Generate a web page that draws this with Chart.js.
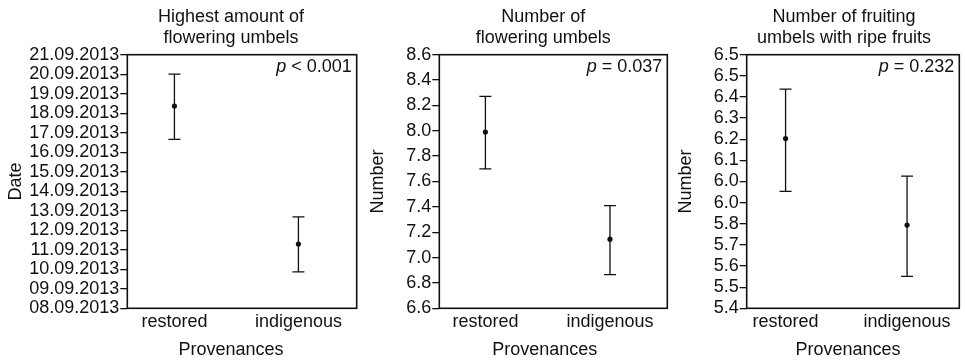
<!DOCTYPE html>
<html><head><meta charset="utf-8">
<script src="https://cdn.jsdelivr.net/npm/chart.js@4.4.1/dist/chart.umd.min.js"></script>
<style>
html,body{margin:0;padding:0;background:#fff;width:965px;height:361px;overflow:hidden}
.p{position:absolute;top:0;height:361px}
</style></head><body>
<div class="p" style="left:0;width:362px"><canvas id="c1"></canvas></div>
<div class="p" style="left:362px;width:308px"><canvas id="c2"></canvas></div>
<div class="p" style="left:670px;width:295px"><canvas id="c3"></canvas></div>
<script>
// ---- data ----
const categories = ['restored', 'indigenous'];

// Panel 1: highest amount of flowering umbels (day of September 2013)
const dateTickValues = [8, 9, 10, 11, 12, 13, 14, 15, 16, 17, 18, 19, 20, 21];
const dateTickLabels = ['08.09.2013','09.09.2013','10.09.2013','11.09.2013','12.09.2013','13.09.2013','14.09.2013',
  '15.09.2013','16.09.2013','17.09.2013','18.09.2013','19.09.2013','20.09.2013','21.09.2013'];
const dateMean  = [18.37, 11.29];
const dateLower = [16.66, 9.87];
const dateUpper = [20.00, 12.69];

// Panel 2: number of flowering umbels
const flowTickValues = [6.6, 6.8, 7.0, 7.2, 7.4, 7.6, 7.8, 8.0, 8.2, 8.4, 8.6];
const flowTickLabels = ['6.6','6.8','7.0','7.2','7.4','7.6','7.8','8.0','8.2','8.4','8.6'];
const flowMean  = [7.99, 7.145];
const flowLower = [7.70, 6.865];
const flowUpper = [8.272, 7.41];

// Panel 3: number of fruiting umbels with ripe fruits
const fruitTickValues = [5.4, 5.5, 5.6, 5.7, 5.8, 5.9, 6.0, 6.1, 6.2, 6.3, 6.4, 6.5, 6.6];
const fruitTickLabels = ['5.4','5.5','5.6','5.7','5.8','6.0','6.0','6.1','6.2','6.3','6.4','6.5','6.5'];
const fruitMean  = [6.203, 5.794];
const fruitLower = [5.953, 5.551];
const fruitUpper = [6.437, 6.025];

const titles = [['Highest amount of', 'flowering umbels'], ['Number of', 'flowering umbels'], ['Number of fruiting', 'umbels with ripe fruits']];
const yTitles = ['Date', 'Number', 'Number'];
const xTitle = 'Provenances';
const pTexts = [['p', ' < 0.001'], ['p', ' = 0.037'], ['p', ' = 0.232']];

// ---- drawing ----
const FONT = "'Liberation Sans', Arial, Helvetica, sans-serif";
const FS = 18;
const INK = '#111';

const errorBars = {
  id: 'errorBars',
  afterDatasetsDraw(chart, args, opts) {
    const ctx = chart.ctx, xs = chart.scales.x, ys = chart.scales.y;
    ctx.save();
    ctx.strokeStyle = INK;
    ctx.lineWidth = 1.3;
    opts.lower.forEach((lo, i) => {
      const x = xs.getPixelForValue(i + 1);
      const y1 = ys.getPixelForValue(lo);
      const y2 = ys.getPixelForValue(opts.upper[i]);
      ctx.beginPath();
      ctx.moveTo(x, y1); ctx.lineTo(x, y2);
      ctx.moveTo(x - 6, y1); ctx.lineTo(x + 6, y1);
      ctx.moveTo(x - 6, y2); ctx.lineTo(x + 6, y2);
      ctx.stroke();
    });
    ctx.restore();
  }
};

const boxAndP = {
  id: 'boxAndP',
  afterDraw(chart, args, opts) {
    const ctx = chart.ctx, a = chart.chartArea;
    ctx.save();
    ctx.strokeStyle = INK;
    ctx.lineWidth = 1.6;
    ctx.strokeRect(a.left, a.top, a.right - a.left, a.bottom - a.top);
    ctx.fillStyle = INK;
    ctx.textBaseline = 'alphabetic';
    ctx.font = FS + 'px ' + FONT;
    ctx.textAlign = 'center';
    const mid = (a.left + a.right) / 2;
    // title (two lines)
    opts.title.forEach((line, i) => ctx.fillText(line, mid + opts.titleShift, 22 + i * 21));
    // x-axis title
    ctx.fillText(xTitle, mid + opts.xTitleShift, 355);
    // p value
    const rest = opts.text[1];
    const wr = ctx.measureText(rest).width;
    const xr = a.right - 5;
    const yb = a.top + 17;
    ctx.textAlign = 'right';
    ctx.fillText(rest, xr, yb);
    ctx.font = 'italic ' + FS + 'px ' + FONT;
    ctx.fillText(opts.text[0], xr - wr, yb);
    ctx.restore();
  }
};

function makeChart(id, idx, mean, lower, upper, tickValues, tickLabels, xMin, xMax, yWidth, padRight, titleShift, xTitleShift) {
  const points = mean.map((m, i) => ({ x: i + 1, y: m }));
  return new Chart(document.getElementById(id), {
    type: 'scatter',
    data: { datasets: [{ data: points, pointRadius: 2.6, pointHoverRadius: 2.6, backgroundColor: INK, borderColor: INK, borderWidth: 0 }] },
    plugins: [errorBars, boxAndP],
    options: {
      responsive: true, maintainAspectRatio: false, animation: false,
      layout: { padding: { left: 0, right: padRight, top: 54.7, bottom: 0 } },
      plugins: {
        legend: { display: false }, tooltip: { enabled: false },
        title: { display: false },
        errorBars: { lower, upper },
        boxAndP: { text: pTexts[idx], title: titles[idx], titleShift, xTitleShift }
      },
      scales: {
        x: {
          type: 'linear', min: xMin, max: xMax,
          afterBuildTicks: s => { s.ticks = categories.map((c, i) => ({ value: i + 1 })); },
          afterFit: s => { s.height = 52.7; },
          ticks: { color: INK, font: { family: FONT, size: FS }, padding: 3, maxRotation: 0, autoSkip: false,
            callback: (v) => categories[Math.round(v) - 1] },
          grid: { display: false, drawTicks: false },
          border: { display: false },
          title: { display: false }
        },
        y: {
          type: 'linear', min: tickValues[0], max: tickValues[tickValues.length - 1],
          afterBuildTicks: s => { s.ticks = tickValues.map(v => ({ value: v })); },
          afterFit: s => { s.width = yWidth; },
          ticks: { color: INK, font: { family: FONT, size: FS }, padding: 1, autoSkip: false,
            callback: (v, i) => tickLabels[i] },
          grid: { display: true, drawOnChartArea: false, drawTicks: true, tickLength: 7, color: INK, lineWidth: 1.3 },
          border: { display: false },
          title: { display: true, text: yTitles[idx], color: INK, font: { family: FONT, size: FS }, padding: { top: 5, bottom: 0 } }
        }
      }
    }
  });
}

makeChart('c1', 0, dateMean, dateLower, dateUpper, dateTickValues, dateTickLabels, 0.62, 2.47, 127.3, 5.3, -11, -11);
makeChart('c2', 1, flowMean, flowLower, flowUpper, flowTickValues, flowTickLabels, 0.63, 2.46, 77.3, 2.7, -10, -8.5);
makeChart('c3', 2, fruitMean, fruitLower, fruitUpper, fruitTickValues, fruitTickLabels, 0.68, 2.43, 76.7, 5.7, -9, -5);
</script>
</body></html>
